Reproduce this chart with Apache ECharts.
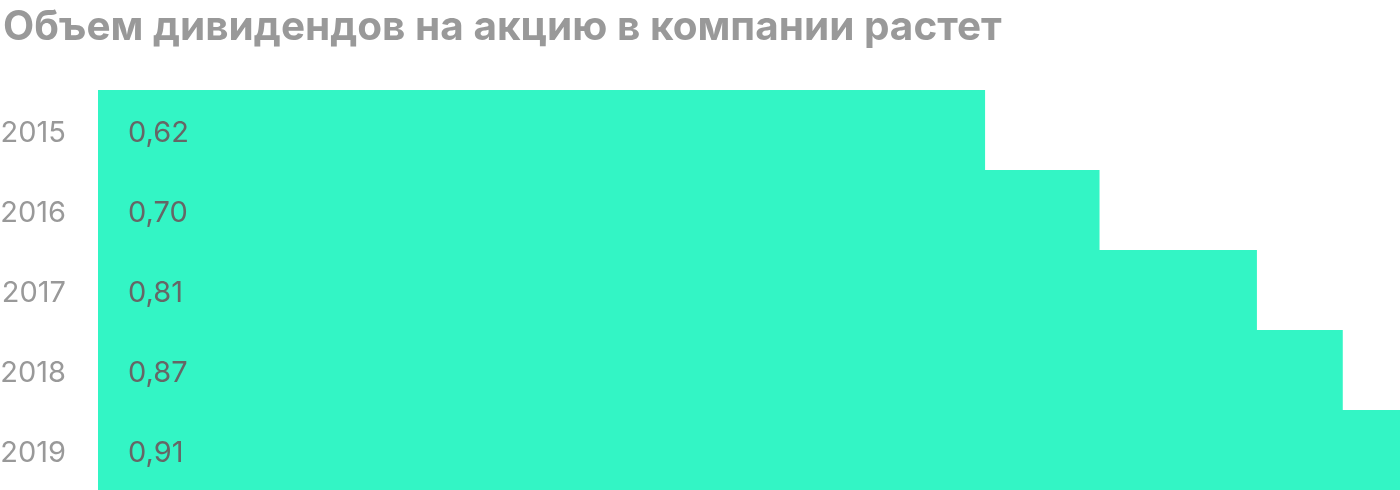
<!DOCTYPE html>
<html><head><meta charset="utf-8">
<script src="https://cdn.jsdelivr.net/npm/echarts@6/dist/echarts.min.js"></script>
<style>html,body{margin:0;padding:0;background:#fff}#c{width:1400px;height:490px}</style>
</head><body><div id="c"></div>
<script>
const title = 'Объем дивидендов на акцию в компании растет';
const years = ['2015','2016','2017','2018','2019'];
const values = [0.62, 0.70, 0.81, 0.87, 0.91];
const chart = echarts.init(document.getElementById('c'));
chart.setOption({
  animation:false,
  title:{text:title,left:-2,top:2,textStyle:{fontFamily:'Inter',fontWeight:'bold',fontSize:40.5,color:'#999999'}},
  grid:{left:98,right:0,top:90,bottom:0,containLabel:false,outerBoundsMode:'none'},
  xAxis:{type:'value',min:0,max:0.91,show:false},
  yAxis:{type:'category',data:years,inverse:true,axisLine:{show:false},axisTick:{show:false},
    axisLabel:{margin:32,formatter:v=>'{y|'+v+'}',
      rich:{y:{color:'#999999',fontSize:29,fontFamily:'Inter',lineHeight:29,padding:[6,0,0,0]}}}},
  series:[{type:'bar',data:values,barCategoryGap:'0%',itemStyle:{color:'#33F5C5'},
    label:{show:true,position:'insideLeft',distance:30,offset:[0,3],color:'#666666',fontSize:29,fontFamily:'Inter',
      formatter:p=>p.value.toFixed(2).replace('.',',')}}]
});
</script></body></html>
